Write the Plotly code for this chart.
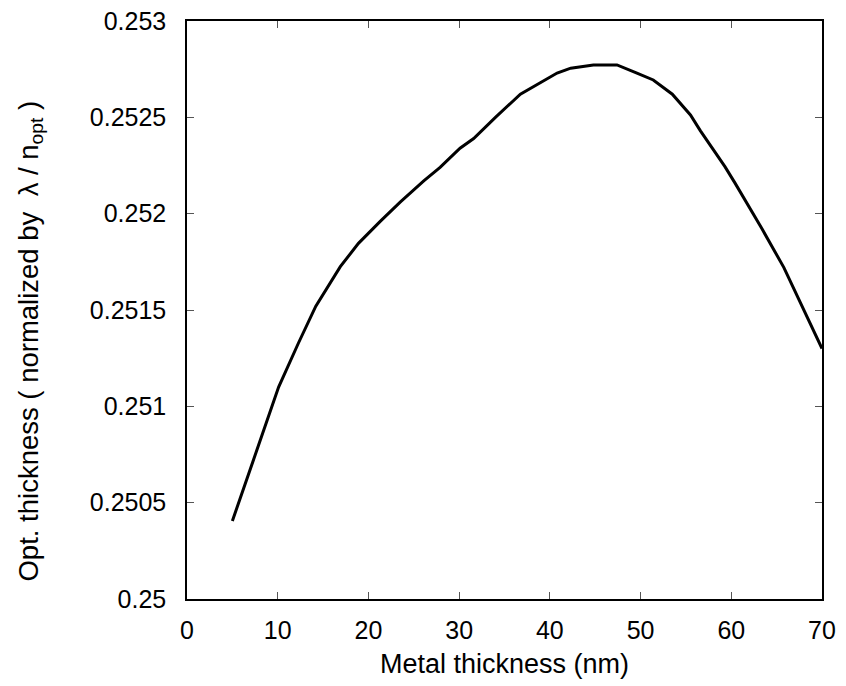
import plotly.graph_objects as go

# Metal thickness (nm) and optimum layer thickness normalized by lambda / n_opt
metal_nm = [5, 7.5, 10.1, 12.3, 14.2, 16.9, 18.9, 21.3, 23.5, 26.1, 27.9, 30.1,
            31.6, 34.0, 36.75, 40.8, 42.3, 44.8, 47.4, 49.6, 51.4, 53.5, 55.5,
            56.6, 59.3, 60.4, 63.4, 65.8, 70]
opt_thick = [0.250405, 0.25075, 0.2511, 0.25133, 0.25152, 0.251725, 0.251846,
             0.25196, 0.25206, 0.25217, 0.25224, 0.25234, 0.25239, 0.2525,
             0.25262, 0.25273, 0.252755, 0.252772, 0.252772, 0.25273, 0.252694,
             0.25262, 0.252512, 0.25243, 0.252244, 0.25216, 0.25192, 0.25172,
             0.2513]

x_ticks = [0, 10, 20, 30, 40, 50, 60, 70]
y_ticks = [0.25, 0.2505, 0.251, 0.2515, 0.252, 0.2525, 0.253]
y_labels = ["0.25", "0.2505", "0.251", "0.2515", "0.252", "0.2525", "0.253"]

x_title = "Metal thickness (nm)"
y_title = "Opt. thickness ( normalized by  λ / n<sub>opt</sub> )"

fig = go.Figure(
    go.Scatter(x=metal_nm, y=opt_thick, mode="lines",
               line=dict(color="black", width=3), showlegend=False)
)

tick_font = dict(family="Liberation Sans, Arial, sans-serif", size=25, color="black")
title_font = dict(family="Liberation Sans, Arial, sans-serif", size=27, color="black")

fig.update_layout(
    width=846, height=686,
    margin=dict(l=186.5, r=24.3, t=21, b=87),
    paper_bgcolor="white", plot_bgcolor="white",
    font=tick_font,
)

axis_common = dict(
    showgrid=False, zeroline=False, automargin=False,
    showline=True, linecolor="black", linewidth=1.5, mirror="ticks",
    ticks="inside", ticklen=7, tickwidth=1, tickcolor="#555555",
    tickfont=tick_font,
)

fig.update_xaxes(
    range=[0, 70], tickvals=x_ticks, ticktext=[str(v) for v in x_ticks],
    title=dict(text=x_title, font=title_font, standoff=11),
    ticklabelstandoff=8,
    **axis_common,
)
fig.update_yaxes(
    range=[0.25, 0.253], tickvals=y_ticks, ticktext=y_labels,
    ticklabelstandoff=14,
    **axis_common,
)

# Vertical axis title, placed a little below the plot's middle
fig.add_annotation(
    text=y_title, textangle=-90, showarrow=False,
    xref="paper", yref="paper", x=-0.2464, y=0.4464,
    xanchor="center", yanchor="middle",
    font=dict(family="Liberation Sans, Arial, sans-serif", size=27.5, color="black"),
)

fig.write_html("out.html")
